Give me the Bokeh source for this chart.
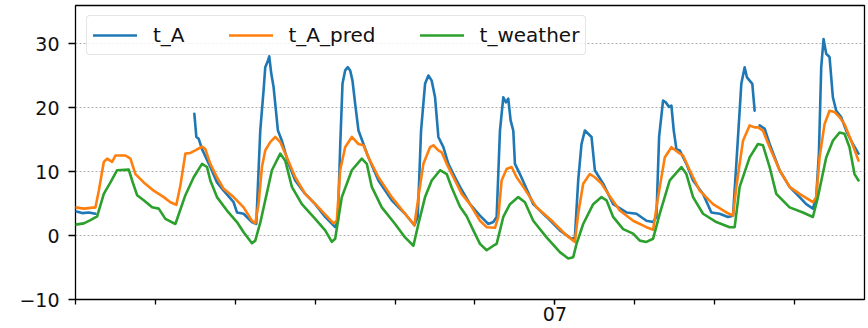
from bokeh.plotting import figure
from bokeh.models import Range1d, FixedTicker, Legend, LegendItem, ColumnDataSource
from bokeh.embed import file_html
from bokeh.resources import INLINE

NaN = float("nan")

# x: hours since the start of day "01"; one minor tick per day, labelled major tick at day "07"
day_ticks = [0, 24, 48, 72, 96, 120, 144, 168, 192, 216]
major_ticks = [144]
major_tick_labels = {144: "07"}
y_ticks = [-10, 0, 10, 20, 30]
y_tick_labels = {-10: "\u221210", 0: "0", 10: "10", 20: "20", 30: "30"}

series_names = ["t_A", "t_A_pred", "t_weather"]
series_colors = ["#1f77b4", "#ff7f0e", "#2ca02c"]

ta_hours = [0, 2, 4, 6, 20,
            35.7, 36.3, 37.0, 38.0, 40.5, 42.5, 44.5, 47.5, 48.5, 50.5, 53.0, 54.3, 55.5, 56.5, 57.0,
            57.8, 58.2, 58.8, 59.5, 60.0, 60.8, 62.0, 64.0, 66.0, 69.0, 72.0, 75.0, 78.0, 78.8, 79.5,
            80.2, 81.0, 81.8, 82.5, 83.2, 84.0, 85.0, 86.5, 88.0, 91.0, 95.0, 99.0, 101.8, 102.8, 103.8,
            105.0, 106.0, 107.0, 108.0, 109.0, 110.5, 112.0, 114.0, 115.5, 118.5, 121.5, 124.0, 125.5,
            126.5, 127.5, 128.5, 129.3, 130.0, 130.7, 131.5, 132.0, 133.5, 137.5, 141.5, 145.5, 149.0,
            150.0, 151.0, 152.0, 153.0, 154.0, 155.0, 156.0, 158.5, 161.5, 165.5, 168.5, 171.5, 173.5,
            174.5, 175.3, 176.5, 177.3, 178.3, 179.0, 179.7, 180.5, 181.5, 183.5, 185.5, 188.5, 191.0,
            193.5, 196.0, 197.5, 198.5, 200.0, 201.0, 201.7, 202.5, 203.3, 204.0, 204.7,
            205.5, 207.0, 208.5, 211.5, 214.5, 217.5, 219.5, 221.5, 222.5, 223.3, 224.0, 224.7, 225.5,
            226.5, 227.5, 228.5, 230.0, 231.5, 233.5, 235.2]
ta_values = [3.8, 3.5, 3.6, 3.4, NaN,
             19.0, 15.4, 15.1, 13.5, 10.7, 8.3, 7.0, 5.2, 3.6, 3.4, 2.1, 1.8, 16.4, 22.7, 26.3,
             27.3, 28.0, 25.3, 23.2, 20.6, 16.4, 14.8, 11.2, 8.6, 6.5, 4.9, 2.9, 1.3, 2.3, 13.8,
             23.7, 25.8, 26.3, 25.8, 24.2, 20.6, 16.4, 14.3, 12.2, 8.6, 5.5, 3.4, 1.6, 2.9, 16.4,
             23.7, 25.0, 24.2, 21.6, 15.4, 13.8, 11.2, 9.1, 7.6, 4.9, 3.1, 1.8, 2.1,
             2.9, 16.4, 21.6, 20.8, 21.4, 18.0, 16.4, 11.2, 9.6, 4.9, 2.9, 0.8, -0.5,
             -0.3, 8.6, 14.3, 16.4, 15.9, 15.4, 10.2, 8.1, 4.9, 3.6, 3.4, 2.3, 2.1,
             2.9, 15.4, 21.1, 20.8, 20.1, 20.3, 16.4, 13.5, 13.3, 11.2, 8.6, 6.5, 3.6,
             3.4, 2.9, 3.1, 11.2, 23.7, 26.3, 24.7, 24.2, 23.7, 19.5, NaN,
             17.2, 16.7, 14.3, 10.2, 7.6, 6.0, 4.9, 4.2, 6.0, 12.8, 26.3, 30.7, 28.4,
             27.9, 21.6, 19.5, 18.5, 16.4, 14.3, 12.8]

pred_hours = [0, 2.5, 6.0, 7.0, 8.5, 9.5, 11.0, 12.0, 15.0, 16.5, 18.0, 20.5, 23.5, 26.5, 28.5,
              30.3, 31.5, 33.0, 34.5, 36.0, 38.0, 39.0, 40.5, 42.5, 44.5, 47.5, 50.5, 53.0, 54.0,
              55.0, 56.0, 57.0, 58.5, 60.0, 61.5, 63.0, 66.0, 69.0, 73.0, 77.5, 78.5, 79.5, 81.0,
              83.0, 85.0, 86.5, 88.0, 91.0, 95.0, 99.0, 101.8, 103.0, 104.5, 106.5, 107.5, 109.0,
              110.0, 111.5, 114.0, 116.0, 118.5, 121.5, 123.5, 126.0, 127.0, 128.0, 129.5, 131.0,
              132.5, 134.5, 138.5, 143.5, 147.5, 150.0, 151.0, 152.5, 154.5, 156.0, 158.0, 160.0,
              163.5, 167.5, 171.5, 173.5, 175.0, 177.0, 179.0, 181.0, 182.5, 184.5, 187.5, 191.5,
              195.5, 197.5, 198.5, 200.5, 202.5, 204.0, 205.0, 206.5, 208.5, 211.5, 214.5, 217.5,
              221.5, 222.5, 223.5, 225.0, 226.5, 228.0, 229.5, 231.0, 233.0, 235.2]
pred_values = [4.4, 4.2, 4.4, 7.0, 11.5, 12.0, 11.5, 12.5, 12.5, 12.0, 9.6, 8.3, 7.0, 6.0, 5.2,
               4.8, 7.8, 12.8, 12.9, 13.3, 13.9, 13.5, 11.2, 9.1, 7.3, 6.0, 4.4, 2.3, 1.9,
               5.0, 10.7, 13.3, 14.6, 15.4, 14.6, 12.8, 9.1, 6.5, 4.4, 1.9, 2.3, 10.2, 13.8,
               15.4, 14.3, 14.1, 12.2, 9.1, 6.0, 3.4, 1.6, 6.0, 11.2, 13.8, 14.1, 13.3,
               13.0, 11.2, 8.6, 6.5, 4.9, 2.3, 1.3, 1.2, 2.9, 8.6, 10.4, 10.7,
               9.1, 7.6, 4.4, 2.1, 0.0, -1.0, 3.4, 8.1, 9.6, 9.1, 8.1, 6.5,
               3.9, 2.3, 1.3, 0.9, 6.0, 12.2, 13.8, 13.0, 12.5, 10.2, 7.0, 4.9,
               3.6, 3.1, 7.6, 14.8, 17.2, 16.9, 16.9, 16.4, 13.8, 10.2, 7.6, 6.5,
               5.2, 6.0, 12.2, 17.4, 19.5, 19.3, 18.5, 17.4, 14.8, 11.7]

weather_hours = [0, 2.5, 4.5, 6.5, 8.5, 10.5, 12.5, 16.0, 17.0, 18.5, 20.5, 23.0, 25.0, 27.0, 30.0,
                 33.0, 35.5, 38.0, 39.5, 40.5, 42.5, 45.5, 48.5, 50.5, 53.0, 54.0, 55.5, 57.0, 59.0,
                 61.5, 63.0, 65.0, 68.0, 72.0, 75.0, 77.0, 78.0, 80.0, 83.0, 86.0, 87.5, 89.0, 92.0,
                 96.0, 99.0, 101.5, 103.0, 105.0, 107.0, 109.5, 111.5, 113.0, 115.5, 117.5, 119.5,
                 121.5, 123.5, 125.5, 126.5, 128.5, 130.5, 133.0, 135.0, 137.5, 141.5, 145.5, 148.0,
                 149.5, 150.5, 152.5, 155.5, 158.0, 159.5, 161.5, 164.5, 167.5, 169.5, 171.5, 173.5,
                 175.5, 178.5, 182.0, 183.5, 185.5, 188.5, 192.5, 196.5, 198.0, 199.5, 202.5, 205.0,
                 206.5, 208.5, 210.5, 214.5, 218.5, 221.5, 223.0, 225.5, 227.5, 229.5, 231.0, 232.5,
                 234.0, 235.2]
weather_values = [1.7, 1.9, 2.4, 3.0, 6.5, 8.3, 10.2, 10.3, 8.6, 6.3, 5.5, 4.4, 4.2, 2.6, 1.8,
                  6.3, 9.1, 11.2, 10.7, 8.6, 6.0, 3.9, 2.1, 0.5, -1.2, -0.8, 2.0, 5.5, 10.2,
                  12.8, 11.7, 7.6, 4.9, 2.6, 0.8, -1.0, -0.5, 6.0, 10.2, 12.0, 11.2, 7.6, 4.4,
                  1.8, -0.3, -1.6, 1.8, 6.0, 8.6, 10.2, 9.6, 7.5, 4.5, 3.0, 0.8,
                  -1.3, -2.3, -1.6, -1.3, 2.9, 4.9, 6.0, 5.2, 2.3, -0.3, -2.6, -3.6,
                  -3.4, -1.3, 1.8, 4.9, 6.0, 5.5, 2.9, 1.0, 0.3, -0.8, -1.0, -0.5,
                  3.4, 8.6, 10.7, 9.6, 6.0, 3.4, 2.1, 1.3, 1.3, 7.6, 12.2, 14.3,
                  14.1, 10.7, 6.5, 4.4, 3.6, 2.9, 6.0, 12.2, 14.8, 16.1, 15.9, 13.8,
                  9.6, 8.6]

FONT = "DejaVu Sans"

p = figure(width=868, height=328, output_backend="svg", toolbar_location=None,
           x_range=Range1d(0, 237), y_range=Range1d(-10, 35.94))
p.min_border_left = 75
p.min_border_right = 4
p.min_border_top = 5
p.min_border_bottom = 29
p.background_fill_color = "white"
p.border_fill_color = "white"
p.outline_line_color = "black"
p.outline_line_width = 1.3

renderers = []
for hrs, vals, color in [(ta_hours, ta_values, series_colors[0]),
                         (pred_hours, pred_values, series_colors[1]),
                         (weather_hours, weather_values, series_colors[2])]:
    src = ColumnDataSource(dict(x=hrs, y=vals))
    r = p.line("x", "y", source=src, line_color=color, line_width=2.6,
               line_join="round", line_cap="round")
    renderers.append(r)

# x axis
p.xaxis.ticker = FixedTicker(ticks=major_ticks, minor_ticks=day_ticks)
p.xaxis.major_label_overrides = major_tick_labels
p.xaxis.major_tick_out = 5
p.xaxis.major_tick_in = 0
p.xaxis.minor_tick_out = 5
p.xaxis.minor_tick_in = 0
p.xaxis.major_label_standoff = 2
# y axis
p.yaxis.ticker = FixedTicker(ticks=y_ticks)
p.yaxis.major_label_overrides = y_tick_labels
p.yaxis.major_tick_out = 7
p.yaxis.major_tick_in = 0
p.yaxis.minor_tick_out = 0
p.yaxis.minor_tick_in = 0
p.yaxis.major_label_standoff = 9

for ax in (p.xaxis, p.yaxis):
    ax.axis_line_color = None
    ax.major_tick_line_color = "black"
    ax.minor_tick_line_color = "black"
    ax.major_tick_line_width = 1.3
    ax.minor_tick_line_width = 1.3
    ax.major_label_text_font = FONT
    ax.major_label_text_font_size = "19px"
    ax.major_label_text_color = "#111111"

p.xgrid.visible = False
p.ygrid.ticker = FixedTicker(ticks=y_ticks)
p.ygrid.grid_line_color = "#b0b0b0"
p.ygrid.grid_line_width = 1.2
p.ygrid.grid_line_dash = "2 2"

legend = Legend(items=[LegendItem(label=n, renderers=[r]) for n, r in zip(series_names, renderers)],
                location=(11, 244), orientation="horizontal")
legend.margin = 0
legend.padding = 6
legend.spacing = 44
legend.glyph_width = 44
legend.glyph_height = 26
legend.label_height = 26
legend.label_standoff = 16
legend.label_text_font = FONT
legend.label_text_font_size = "20px"
legend.label_text_color = "#111111"
legend.label_text_baseline = "middle"
legend.border_line_color = "#cccccc"
legend.border_line_width = 1.2
legend.background_fill_color = "white"
legend.background_fill_alpha = 0.8
if hasattr(legend, "border_radius"):
    legend.border_radius = 4
p.add_layout(legend, "center")

open("out.html", "w").write(file_html(p, INLINE))
